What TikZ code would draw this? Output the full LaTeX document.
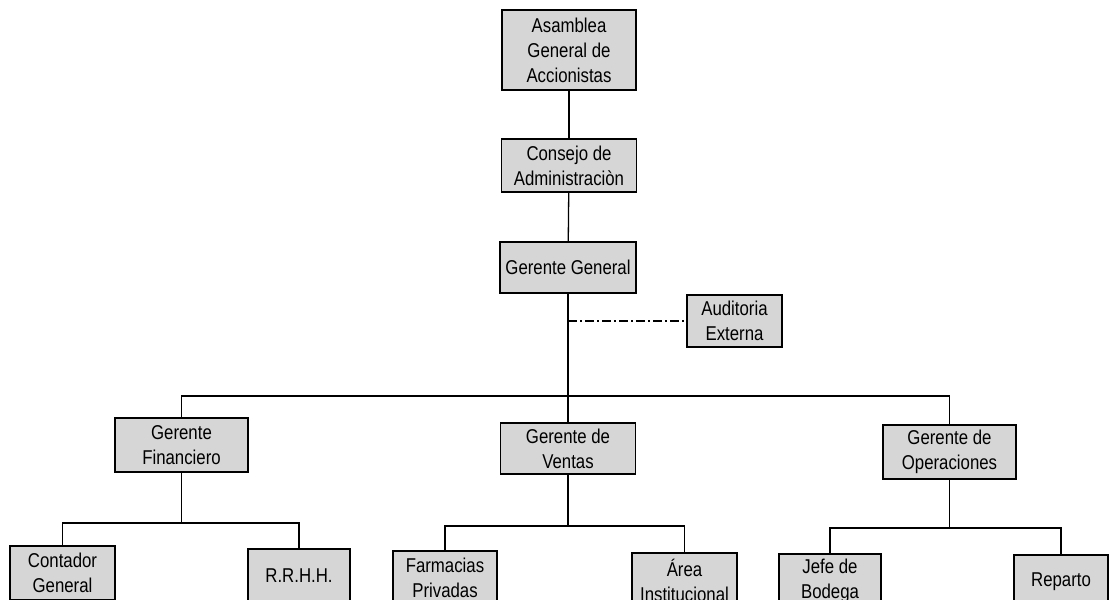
\documentclass[tikz,border=0pt]{standalone}
\usepackage{fontspec}
\setmainfont{Liberation Sans}[FakeStretch=0.84]
\usetikzlibrary{positioning,calc}
\definecolor{BoxGray}{RGB}{214,214,214}
\tikzset{
  box/.style={draw=black,fill=BoxGray,line width=1.3pt,inner sep=2pt,align=center,
    font=\fontsize{20}{25}\selectfont,minimum height=54pt},
  link/.style={draw=black,line width=1.3pt},
  staff/.style={draw=black,line width=1.1pt,dash pattern=on 9pt off 3pt on 2pt off 3pt},
}

\begin{document}
\begin{tikzpicture}[x=1pt,y=-1pt]
\clip (0,0) rectangle (1109,600);
\node[box,minimum width=134pt,minimum height=80pt] (asamblea) at (569,50) {Asamblea\\General de\\Accionistas};
\node[box,minimum width=135pt,minimum height=53pt] (consejo) at (569,165.5) {Consejo de\\Administraciòn};
\node[box,minimum width=136pt,minimum height=51pt] (gg) at (568,267.5) {Gerente General};
\node[box,minimum width=95pt,minimum height=52pt] (auditoria) at (734.5,321) {Auditoria\\Externa};
\node[box,minimum width=133pt] (gf) at (181.5,445) {Gerente\\Financiero};
\node[box,minimum width=135pt,minimum height=51pt] (gv) at (568,448.5) {Gerente de\\Ventas};
\node[box,minimum width=133pt] (go) at (949.5,452) {Gerente de\\Operaciones};
\node[box,minimum width=105pt] (contador) at (62.5,573) {Contador\\General};
\node[box,minimum width=102pt] (rrhh) at (299,576) {R.R.H.H.};
\node[box,minimum width=104pt] (farmacias) at (445,578) {Farmacias\\Privadas};
\node[box,minimum width=105pt] (area) at (684.5,580) {Área\\Institucional};
\node[box,minimum width=102pt] (jefe) at (830,581) {Jefe de\\Bodega};
\node[box,minimum width=94pt] (reparto) at (1061,582) {Reparto};
\coordinate (bar) at (568,396);
\coordinate (gfbar) at (181.5,523);
\coordinate (gvbar) at (568,526);
\coordinate (gobar) at (949.5,528);
\draw[link] (asamblea) -- (consejo);
\draw[link] (consejo) -- (gg);
\draw[link] (gg) -- (bar);
\draw[link] (bar) -- (gv);
\draw[link] (gf.north) |- (bar) -| (go.north);
\draw[staff] (auditoria.west -| gg.south) -- (auditoria.west);
\draw[link] (gf) -- (gfbar);
\draw[link] (contador.north) |- (gfbar) -| (rrhh.north);
\draw[link] (gv) -- (gvbar);
\draw[link] (farmacias.north) |- (gvbar) -| (area.north);
\draw[link] (go) -- (gobar);
\draw[link] (jefe.north) |- (gobar) -| (reparto.north);
\end{tikzpicture}
\end{document}
